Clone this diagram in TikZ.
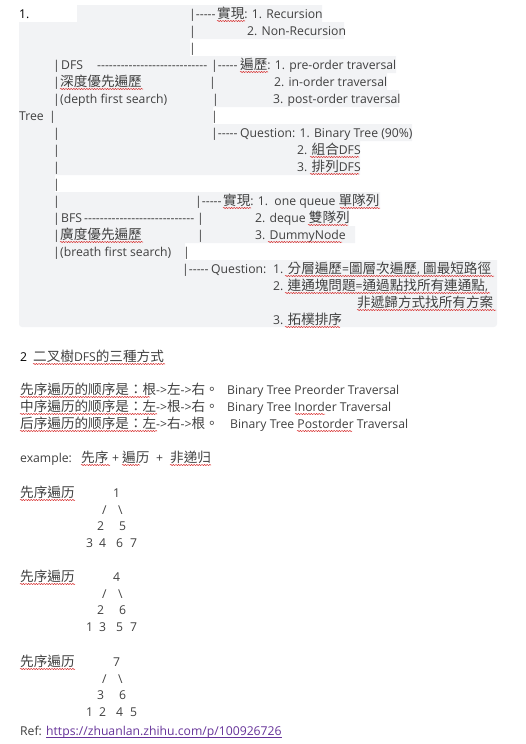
\documentclass[tikz,border=0pt]{standalone}
\usepackage{fontspec}
\setmainfont{Open Sans}[Ligatures=TeXOff]
\newfontfamily\zhfont{Noto Sans CJK TC}
\usetikzlibrary{decorations.pathmorphing}
\definecolor{ink}{RGB}{64,64,64}
\definecolor{hilite}{RGB}{242,243,245}
\definecolor{spellred}{RGB}{215,45,45}
\definecolor{visited}{RGB}{102,51,153}
\newcommand\zh[1]{{\zhfont\fontsize{13.6}{16}\selectfont #1}}
\begin{document}
\begin{tikzpicture}[x=1pt, y=-1pt,
    txt/.style={anchor=base west, inner sep=0pt, text=ink, font=\fontsize{12.2}{14}\selectfont},
    head/.style={txt, text=black},
    squiggle/.style={spellred, line width=0.5pt, decorate,
        decoration={snake, amplitude=0.6pt, segment length=2.6pt}}]
    \useasboundingbox (0,0) rectangle (525,744);

    % ===== gray highlight behind the outline =====
    \fill[hilite] (77,5) rectangle (322,22) (19,22) rectangle (344,39)
        (19,39) rectangle (190,56) (19,56) rectangle (396,73)
        (19,73) rectangle (387,90) (19,90) rectangle (399,107)
        (19,107) rectangle (213,124) (19,124) rectangle (412,141)
        (19,141) rectangle (360,175) (19,175) rectangle (55,192)
        (19,192) rectangle (380,209) (19,209) rectangle (349,226)
        (19,226) rectangle (355,243) (19,243) rectangle (185,260);
    \fill[hilite] (19,260) -- (497,260) [rounded corners=3pt] -- (497,327) -- (19,327) [sharp corners] -- cycle;

    % ===== 1. Tree outline: DFS branch =====
    \node[head] (one) at (19,18) {1.};
    \node[txt] (impBar) at (189,18) {|-----};
    \node[txt] (impA) at (217,18) {\zh{實現}: 1. Recursion};
    \node[txt] (impBarB) at (189,35) {|};
    \node[txt] (impB) at (247,35) {2. Non-Recursion};
    \node[txt] (impBarC) at (189,52) {|};

    \node[txt] (dfsBar) at (53,69) {|};
    \node[txt] (dfs) at (61,69) {DFS};
    \node[txt] (dfsDash) at (97,69) {----------------------------};
    \node[txt] (travBar) at (211,69) {|-----};
    \node[txt] (travA) at (240,69) {\zh{遍歷}: 1. pre-order traversal};
    \node[txt] (dfsBarB) at (53,86) {|};
    \node[txt] (dfsZh) at (60,86) {\zh{深度優先遍歷}};
    \node[txt] (travBarB) at (209,86) {|};
    \node[txt] (travB) at (274,86) {2. in-order traversal};
    \node[txt] (dfsBarC) at (53,103) {|};
    \node[txt] (dfsEn) at (60,103) {(depth first search)};
    \node[txt] (travBarC) at (212,103) {|};
    \node[txt] (travC) at (273,103) {3. post-order traversal};

    \node[txt] (tree) at (19,120) {Tree};
    \node[txt] (treeBar) at (49,120) {|};
    \node[txt] (travBarD) at (211,120) {|};

    \node[txt] (qBarA) at (53,137) {|};
    \node[txt] (qDash) at (211,137) {|-----};
    \node[txt] (qA) at (240,137) {Question: 1. Binary Tree (90\%)};
    \node[txt] (qBarB) at (53,154) {|};
    \node[txt] (qB) at (297,154) {2. \zh{組合}DFS};
    \node[txt] (qBarC) at (53,171) {|};
    \node[txt] (qC) at (297,171) {3. \zh{排列}DFS};
    \node[txt] (gapBar) at (53,188) {|};

    % ===== 1. Tree outline: BFS branch =====
    \node[txt] (bfsBarA) at (53,205) {|};
    \node[txt] (queBar) at (195,205) {|-----};
    \node[txt] (queA) at (223,205) {\zh{實現}: 1.\ \ one queue \zh{單隊列}};
    \node[txt] (bfsBar) at (53,222) {|};
    \node[txt] (bfs) at (61,222) {BFS};
    \node[txt] (bfsDash) at (84,222) {----------------------------};
    \node[txt] (queBarB) at (197,222) {|};
    \node[txt] (queB) at (255,222) {2. deque \zh{雙隊列}};
    \node[txt] (bfsBarB) at (53,239) {|};
    \node[txt] (bfsZh) at (60,239) {\zh{廣度優先遍歷}};
    \node[txt] (queBarC) at (197,239) {|};
    \node[txt] (queC) at (255,239) {3. DummyNode};
    \node[txt] (bfsBarC) at (53,256) {|};
    \node[txt] (bfsEn) at (60,256) {(breath first search)};
    \node[txt] (bfsEnd) at (183,256) {|};

    \node[txt] (askDash) at (182,273) {|-----};
    \node[txt] (ask) at (211,273) {Question:};
    \node[txt] (askA) at (273,273) {1. \zh{分層遍歷}=\zh{圖層次遍歷}, \zh{圖最短路徑}};
    \node[txt] (askB) at (273,290) {2. \zh{連通塊問題}=\zh{通過點找所有連通點},};
    \node[txt] (askBb) at (357,307) {\zh{非遞歸方式找所有方案}};
    \node[txt] (askC) at (273,324) {3. \zh{拓樸排序}};

    % ===== 2. three DFS orders =====
    \node[head] (two) at (20,361) {2};
    \node[txt] (twoTitle) at (33,361) {\zh{二叉樹}DFS\zh{的三種方式}};
    \node[txt] (preZh) at (20,394) {\zh{先序遍历的顺序是：根}->\zh{左}->\zh{右。}};
    \node[txt] (preEn) at (227,394) {Binary Tree Preorder Traversal};
    \node[txt] (inZh) at (20,411) {\zh{中序遍历的顺序是：左}->\zh{根}->\zh{右。}};
    \node[txt] (inEn) at (227,411) {Binary Tree Inorder Traversal};
    \node[txt] (postZh) at (20,428) {\zh{后序遍历的顺序是：左}->\zh{右}->\zh{根。}};
    \node[txt] (postEn) at (230,428) {Binary Tree Postorder Traversal};

    \node[txt] (ex) at (20,462) {example:};
    \node[txt] (exA) at (81,462) {\zh{先序}};
    \node[txt] (exPlus) at (112,462) {+};
    \node[txt] (exB) at (122,462) {\zh{遍历}};
    \node[txt] (exPlusB) at (156,462) {+};
    \node[txt] (exC) at (170,462) {\zh{非递归}};

    % three small trees, 17px per row
    \foreach \yy/\r/\a/\b/\c/\d/\e/\f [count=\k] in
        {497/1/2/5/3/4/6/7, 581/4/2/6/1/3/5/7, 666/7/3/6/1/2/4/5} {
        \node[txt] (lbl\k) at (20,\yy) {\zh{先序遍历}};
        \node[txt] (root\k) at (113,\yy) {\r};
        \node[txt] (slL\k) at (102,\yy+17) {/};
        \node[txt] (slR\k) at (118,\yy+17) {\textbackslash};
        \node[txt] (midL\k) at (97,\yy+33) {\a};
        \node[txt] (midR\k) at (119,\yy+33) {\b};
        \node[txt] (leafA\k) at (86,\yy+50) {\c};
        \node[txt] (leafB\k) at (99,\yy+50) {\d};
        \node[txt] (leafC\k) at (116,\yy+50) {\e};
        \node[txt] (leafD\k) at (130,\yy+50) {\f};
    }

    \node[txt] (ref) at (20,735) {Ref:};
    \node[txt, text=visited] (link) at (46,735) {https://zhuanlan.zhihu.com/p/100926726};
    \draw[visited, line width=0.6pt] ([yshift=-1.8pt]link.base west) -- ([yshift=-1.8pt]link.base east);

    % spell-check underlines
    \foreach \xa/\xb/\yy in {217/245/21, 240/268/72, 60/143/89, 310/359/157,
        310/359/174, 223/251/208, 340/380/208, 308/348/225, 60/143/242,
        268/342/242, 285/494/276, 285/490/293, 357/496/310, 285/340/327,
        33/165/364, 20/150/397, 20/157/414, 20/157/431, 295/325/414,
        297/352/431, 81/110/465, 122/140/465, 170/211/465,
        20/75/500, 20/75/584, 20/75/669}
        \draw[squiggle] (\xa,\yy) -- (\xb,\yy);
\end{tikzpicture}
\end{document}
